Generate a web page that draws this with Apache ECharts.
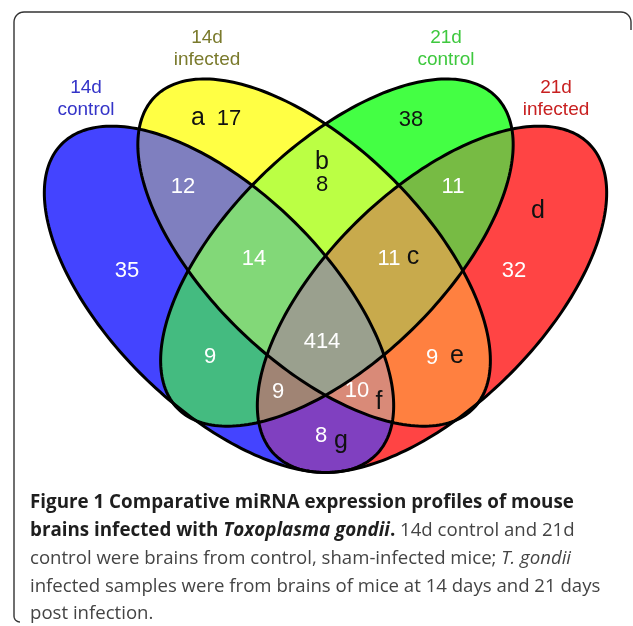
<!DOCTYPE html>
<html><head><meta charset="utf-8">
<script src="https://cdn.jsdelivr.net/npm/echarts@6/dist/echarts.min.js"></script>
<style>html,body{margin:0;padding:0;background:#fff}#c{width:633px;height:626px}</style>
</head><body><div id="c"></div>
<script>
const setNames = ['14d control','14d infected','21d control','21d infected'];
const setLabelColors = ['#3434c8','#7a7a2c','#3ec83e','#c82020'];
const regionSets    = ['A','B','C','D','AB','AC','AD','BC','BD','CD','ABC','ABD','ACD','BCD','ABCD'];
const regionCounts  = [35,17,38,32,12,9,8,8,9,11,14,10,9,11,414];
const regionLetters = ['','a','','d','','','g','b','e','','','f','','c',''];
const regionFills   = ['#4444ff','#ffff44','#44ff44','#ff4444','#7f7fbf','#44bb80','#8040c0','#bbff44','#ff8040','#77bb44','#82d878','#d98a78','#a08474','#c8aa4c','#9aa08e'];

// ---- layout (axis units = pixels) ----
const AX = 325.5;
const eA = {cx:219.0, cy:299.3, rx:108.0, ry:221.0, rot:-45.4*Math.PI/180};
const eB = {cx:314.1, cy:252.6, rx:107.6, ry:222.8, rot:-45.7*Math.PI/180};
const mir = e => ({cx:2*AX-e.cx, cy:e.cy, rx:e.rx, ry:e.ry, rot:-e.rot});
const ellipses = [eA, eB, mir(eB), mir(eA)];

const numPos = {A:[127,271],B:[229,119],C:[411,120],D:[514,271],AB:[183,187],AC:[210,357],AD:[321,436],BC:[322,185],BD:[432,358],CD:[453,187],ABC:[254,259],ABD:[357,391],ACD:[278,392],BCD:[389,259],ABCD:[322,342]};
const letterPos = {B:[198,118],D:[538,211],AD:[341,441],BC:[322,162],BD:[457,356],ABD:[379,402],BCD:[413,257]};
const numDark = {B:1,C:1,BC:1};
const setLabelPos = [[86,88,110],[207,38,60],[446,38,60],[556,88,110]];

function ellipsePts(e,api){const pts=[];const N=240;const c=Math.cos(e.rot),s=Math.sin(e.rot);for(let i=0;i<N;i++){const t=2*Math.PI*i/N;const x=e.cx+e.rx*Math.cos(t)*c-e.ry*Math.sin(t)*s;const y=e.cy+e.rx*Math.cos(t)*s+e.ry*Math.sin(t)*c;pts.push(api.coord([x,y]));}return pts;}
function cross(o,a,b){return (a[0]-o[0])*(b[1]-o[1])-(a[1]-o[1])*(b[0]-o[0]);}
function clipPoly(subj,clip){let area=0;for(let i=0;i<clip.length;i++){const p=clip[i],q=clip[(i+1)%clip.length];area+=p[0]*q[1]-q[0]*p[1];}const sg=area>0?1:-1;let out=subj;
 for(let i=0;i<clip.length&&out.length;i++){const A=clip[i],B=clip[(i+1)%clip.length];const inp=out;out=[];const ins=p=>sg*cross(A,B,p)>=0;
  const inter=(S,E)=>{const r=[B[0]-A[0],B[1]-A[1]],d=[E[0]-S[0],E[1]-S[1]];const t=-(r[0]*(S[1]-A[1])-r[1]*(S[0]-A[0]))/(r[0]*d[1]-r[1]*d[0]);return [S[0]+t*d[0],S[1]+t*d[1]];};
  let S=inp[inp.length-1];for(const E of inp){if(ins(E)){if(!ins(S))out.push(inter(S,E));out.push(E);}else if(ins(S))out.push(inter(S,E));S=E;}}
 return out;}
const idx={A:0,B:1,C:2,D:3};

const chart=echarts.init(document.getElementById('c'),null,{renderer:'canvas'});

const capFam='"Open Sans"';
const boldSize=18.8, normSize=18.6;
const rich={b:{fontFamily:capFam,fontWeight:'bold',fontSize:boldSize,fill:'#1e1e1e'},bi:{fontFamily:capFam,fontWeight:'bold',fontStyle:'italic',fontSize:boldSize,fill:'#1e1e1e'},n:{fontFamily:capFam,fontSize:normSize,fill:'#444'},i:{fontFamily:capFam,fontStyle:'italic',fontSize:normSize,fill:'#444'}};
const capLines=['{b|Figure 1 Comparative miRNA expression profiles of mouse}','{b|brains infected with }{bi|Toxoplasma gondii}{b|.}{n| 14d control and 21d}','{n|control were brains from control, sham-infected mice; }{i|T. gondii}','{n|infected samples were from brains of mice at 14 days and 21 days}','{n|post infection.}'];
const capY=[503,531,559,587,614];

function framePts(){const pts=[];const arc=(cx,cy,r,a0,a1)=>{for(let k=0;k<=8;k++){const a=a0+(a1-a0)*k/8;pts.push([cx+r*Math.cos(a),cy+r*Math.sin(a)]);}};
 pts.push([631,30]);arc(621,22,10,0,-Math.PI/2);arc(24,22,10,-Math.PI/2,-Math.PI);pts.push([14,616]);arc(20,616,6,Math.PI,Math.PI/2);return pts;}

const option={
 animation:false,
 grid:{left:0,right:0,top:0,bottom:0},
 xAxis:{type:'value',min:0,max:633,show:false},
 yAxis:{type:'value',min:0,max:626,inverse:true,show:false},
 series:[
  {type:'custom',coordinateSystem:'cartesian2d',z:1,data:regionSets.map((s,i)=>[i,regionCounts[i]]),
   renderItem:(p,api)=>{const key=regionSets[p.dataIndex];const sets=key.split('').map(k=>ellipses[idx[k]]);let poly=ellipsePts(sets[0],api);for(let k=1;k<sets.length;k++)poly=clipPoly(poly,ellipsePts(sets[k],api));
    return {type:'polygon',shape:{points:poly},style:{fill:regionFills[p.dataIndex],stroke:regionFills[p.dataIndex],lineWidth:0.6}};}},
  {type:'custom',coordinateSystem:'cartesian2d',z:2,data:setNames.map((s,i)=>[i,0]),
   renderItem:(p,api)=>({type:'polygon',shape:{points:ellipsePts(ellipses[p.dataIndex],api)},style:{fill:'none',stroke:'#000',lineWidth:3}})},
  {type:'custom',coordinateSystem:'cartesian2d',z:3,data:regionSets.map((s,i)=>[i,regionCounts[i]]),
   renderItem:(p,api)=>{const key=regionSets[p.dataIndex];const ch=[];const np=api.coord(numPos[key]);
    ch.push({type:'text',x:np[0],y:np[1],style:{text:String(regionCounts[p.dataIndex]),fill:numDark[key]?'#111':'#fff',fontSize:22,fontFamily:'"Liberation Sans"',align:'center',verticalAlign:'middle'}});
    if(regionLetters[p.dataIndex]){const lp=api.coord(letterPos[key]);ch.push({type:'text',x:lp[0],y:lp[1],style:{text:regionLetters[p.dataIndex],fill:'#111',fontSize:25,fontFamily:'"Liberation Sans"',align:'center',verticalAlign:'middle'}});}
    return {type:'group',children:ch};}},
  {type:'custom',coordinateSystem:'cartesian2d',z:3,data:setNames.map((s,i)=>[i,0]),
   renderItem:(p,api)=>{const lp=setLabelPos[p.dataIndex];const parts=setNames[p.dataIndex].split(' ');
    return {type:'group',children:parts.map((t,k)=>{const c=api.coord([lp[0],lp[1+k]]);return {type:'text',x:c[0],y:c[1],style:{text:t,fill:setLabelColors[p.dataIndex],fontSize:19,fontFamily:'"Liberation Sans"',align:'center',verticalAlign:'middle'}};})};}}
 ],
 graphic:[
  {type:'polyline',shape:{points:framePts()},style:{fill:'none',stroke:'#333',lineWidth:1.4}},
  ...capLines.map((t,i)=>({type:'text',x:30,y:capY[i],style:{text:t,rich:rich,verticalAlign:'middle'}}))
 ]
};
chart.setOption(option);
</script></body></html>
